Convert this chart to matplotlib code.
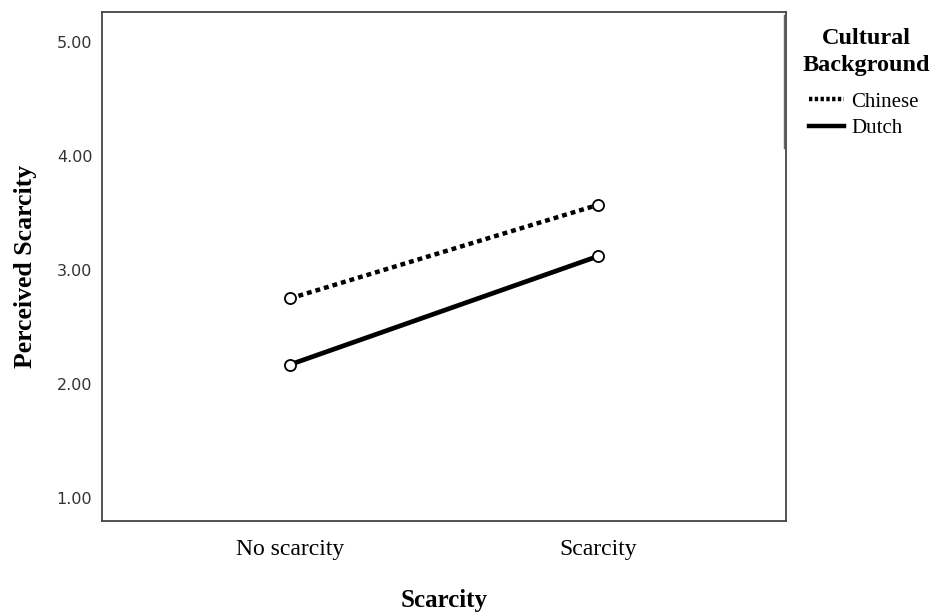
import matplotlib.pyplot as plt
from matplotlib.lines import Line2D

categories = ["No scarcity", "Scarcity"]
chinese = [2.75, 3.57]
dutch = [2.17, 3.12]
yticks = [1.00, 2.00, 3.00, 4.00, 5.00]

serif = ["Liberation Serif", "DejaVu Serif"]
W, H = 934, 612

fig = plt.figure(figsize=(9.34, 6.12), dpi=100)
ax = fig.add_axes([0.1092, 0.1487, 0.7323, 0.8317])

x = list(range(len(categories)))
ax.plot(x, chinese, color="black", lw=3.2, linestyle=(0, (1.1, 0.9)),
        marker="o", ms=8, mfc="white", mec="black", mew=1.3, label="Chinese")
ax.plot(x, dutch, color="black", lw=3.4, linestyle="-",
        marker="o", ms=8, mfc="white", mec="black", mew=1.3, label="Dutch")

ax.set_xlim(-0.61, 1.61)
ax.set_ylim(0.8, 5.26)
ax.set_xticks(x)
ax.set_xticklabels(categories, fontfamily=serif, fontsize=17)
ax.set_yticks(yticks)
ax.set_yticklabels([f"{v:.2f}" for v in yticks], fontfamily="DejaVu Sans",
                   fontsize=11.5, color="#333333")
ax.tick_params(axis="x", length=0, pad=13)
ax.tick_params(axis="y", length=0, pad=7)

for s in ax.spines.values():
    s.set_color("#444444")
    s.set_linewidth(1.3)

ax.set_xlabel("Scarcity", fontfamily=serif, fontweight="bold", fontsize=18, labelpad=21)
ax.set_ylabel("Perceived Scarcity", fontfamily=serif, fontweight="bold", fontsize=18.5, labelpad=14.5)

# thin line at legend box edge
fig.add_artist(Line2D([784 / W, 784 / W], [1 - 15 / H, 1 - 148 / H],
                      color="#666666", lw=1.0))

# legend title
fig.text(866 / W, 1 - 38 / H, "Cultural", family=serif, weight="bold",
         fontsize=17.5, ha="center", va="center")
fig.text(866 / W, 1 - 65 / H, "Background", family=serif, weight="bold",
         fontsize=17.5, ha="center", va="center")

leg = fig.legend(handles=ax.get_lines(), labels=["Chinese", "Dutch"],
                 loc="upper left", bbox_to_anchor=(809 / W, 1 - 92 / H),
                 frameon=False, prop={"family": serif, "size": 15},
                 handlelength=1.7, handletextpad=0.33, labelspacing=0.35,
                 borderpad=0, borderaxespad=0)
for h in leg.legend_handles:
    h.set_marker("")
    h.set_linewidth(3.2)
leg.legend_handles[0].set_linestyle((0, (0.75, 0.55)))

fig.savefig("out.png", dpi=100)
